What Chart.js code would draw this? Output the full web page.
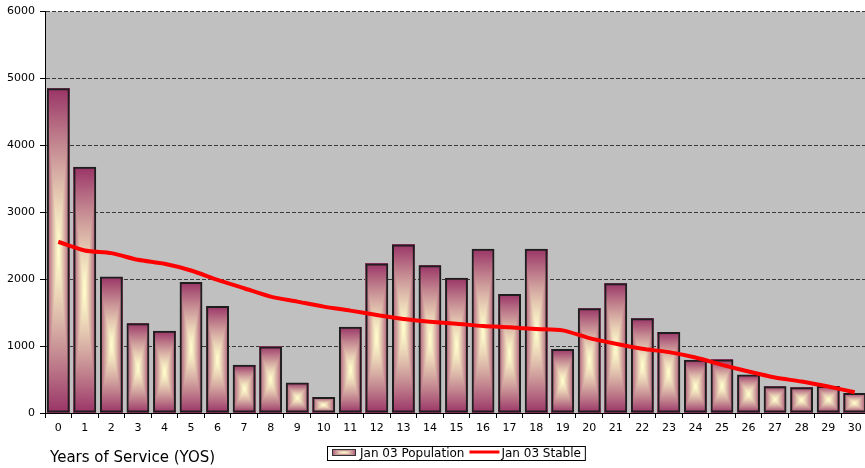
<!DOCTYPE html>
<html>
<head>
<meta charset="utf-8">
<title>Years of Service</title>
<script src="https://cdn.jsdelivr.net/npm/chart.js@4/dist/chart.umd.min.js"></script>
<style>
  html, body { margin: 0; padding: 0; background: #fff; overflow: hidden; }
  #wrap { width: 870px; height: 468px; }
</style>
</head>
<body>
<div id="wrap"><canvas id="yosChart" width="870" height="468"></canvas></div>
<script>
// --- Data ---
const years = ['0', '1', '2', '3', '4', '5', '6', '7', '8', '9', '10', '11', '12', '13', '14', '15',
    '16', '17', '18', '19', '20', '21', '22', '23', '24', '25', '26', '27', '28', '29', '30'];
const population = [4855, 3680, 2040, 1340, 1230, 1960, 1600, 720, 995, 455, 240, 1290, 2235, 2520, 2210,
    2020, 2455, 1780, 2455, 955, 1565, 1940, 1415, 1210, 795, 800, 575, 400, 385, 405, 300];
const stable = [2560, 2430, 2390, 2290, 2230, 2130, 1990, 1865, 1740, 1665, 1590, 1530, 1465, 1405, 1365,
    1335, 1300, 1280, 1255, 1235, 1120, 1035, 960, 910, 830, 720, 620, 530, 470, 395, 310];
const yTicks = [0, 1000, 2000, 3000, 4000, 5000, 6000];

const popLabel = 'Jan 03 Population';
const stableLabel = 'Jan 03 Stable';
const xTitle = 'Years of Service (YOS)';

const FONT = '"DejaVu Sans", "Liberation Sans", Arial, sans-serif';
const EDGE = [153, 51, 102];   // plum
const CENTRE = [255, 253, 204]; // pale yellow

// rectangular "from centre" gradient, filled pixel by pixel
function fillRectGradient(c, left, top, w, h) {
    const x0 = Math.round(left), y0 = Math.round(top);
    const iw = Math.max(1, Math.round(left + w) - x0);
    const ih = Math.max(1, Math.round(top + h) - y0);
    const img = c.createImageData(iw, ih);
    const hw = iw / 2, hh = ih / 2;
    for (let j = 0; j < ih; j++) {
        const v = Math.abs(j + 0.5 - hh) / hh;
        for (let i = 0; i < iw; i++) {
            const u = Math.abs(i + 0.5 - hw) / hw;
            const d = Math.max(0.9 * u, v);
            const t = 1 - Math.pow(d, 1.25); // 0 at edge, 1 at centre
            const k = (j * iw + i) * 4;
            img.data[k] = EDGE[0] + (CENTRE[0] - EDGE[0]) * t;
            img.data[k + 1] = EDGE[1] + (CENTRE[1] - EDGE[1]) * t;
            img.data[k + 2] = EDGE[2] + (CENTRE[2] - EDGE[2]) * t;
            img.data[k + 3] = 255;
        }
    }
    c.putImageData(img, x0, y0);
}

document.addEventListener('DOMContentLoaded', function () {
    const ctx = document.getElementById('yosChart')?.getContext('2d');
    if (!ctx) {
        console.warn("Chart context not found, likely missing element with id 'yosChart'.");
        return;
    }

    // grey plot area
    const plotBackground = {
        id: 'plotBackground',
        beforeDraw(chart) {
            const { ctx: c, chartArea: a } = chart;
            c.save();
            c.fillStyle = '#c0c0c0';
            c.fillRect(a.left, a.top, a.right - a.left, a.bottom - a.top);
            c.restore();
        }
    };

    // gradient fill under each bar's border
    const barGradient = {
        id: 'barGradient',
        beforeDatasetDraw(chart, args) {
            if (args.index !== 0) return;
            const c = chart.ctx;
            args.meta.data.forEach(function (bar) {
                const top = Math.min(bar.y, bar.base);
                const h = Math.abs(bar.base - bar.y);
                fillRectGradient(c, bar.x - bar.width / 2, top, bar.width, h);
            });
        }
    };

    // axis title and boxed legend along the bottom
    const bottomLegend = {
        id: 'bottomLegend',
        afterDraw(chart) {
            const c = chart.ctx;
            c.save();
            c.fillStyle = '#000';
            c.textBaseline = 'alphabetic';
            c.font = '15px ' + FONT;
            c.fillText(xTitle, 50, 462);

            c.font = '12px ' + FONT;
            const boxTop = 446, boxH = 14;
            const start = 327;
            const midY = boxTop + boxH / 2;
            let x = 332;

            // bar swatch
            fillRectGradient(c, x, 449, 24, 7);
            c.strokeStyle = '#333';
            c.lineWidth = 1;
            c.strokeRect(x + 0.5, 449.5, 23, 6);
            x += 28;
            c.fillStyle = '#000';
            c.textBaseline = 'middle';
            c.fillText(popLabel, x, midY + 0.5);
            x += c.measureText(popLabel).width + 5;

            // line swatch
            c.strokeStyle = '#ff0000';
            c.lineWidth = 3;
            c.beginPath();
            c.moveTo(x, 452);
            c.lineTo(x + 30, 452);
            c.stroke();
            x += 32;
            c.fillText(stableLabel, x, midY + 0.5);
            x += c.measureText(stableLabel).width + 4;

            c.strokeStyle = '#000';
            c.lineWidth = 1;
            c.strokeRect(start + 0.5, boxTop + 0.5, x - start, boxH);
            c.restore();
        }
    };

    const yosChart = new Chart(ctx, {
        type: 'bar',
        data: {
            labels: years,
            datasets: [{
                type: 'bar',
                label: popLabel,
                data: population,
                backgroundColor: 'rgba(0,0,0,0)',
                borderColor: '#1e1e1e',
                borderWidth: 2,
                borderSkipped: false,
                categoryPercentage: 1,
                barPercentage: 0.86,
                order: 1
            }, {
                type: 'line',
                label: stableLabel,
                data: stable,
                borderColor: '#ff0000',
                borderWidth: 4,
                pointRadius: 0,
                tension: 0.25,
                fill: false,
                order: 0
            }]
        },
        options: {
            responsive: false,
            animation: false,
            devicePixelRatio: 1,
            layout: { padding: { top: 11, right: 2, bottom: 0, left: 0 } },
            plugins: {
                legend: { display: false },
                tooltip: { enabled: false }
            },
            scales: {
                x: {
                    grid: {
                        offset: true,
                        drawOnChartArea: false,
                        tickLength: 5,
                        tickColor: '#000',
                        color: '#000'
                    },
                    border: { display: true, color: '#000', width: 1 },
                    ticks: {
                        autoSkip: false,
                        maxRotation: 0,
                        padding: 4,
                        color: '#000',
                        font: { family: FONT, size: 11 }
                    },
                    afterFit(scale) { scale.height = 55; }
                },
                y: {
                    min: 0,
                    max: 6000,
                    afterBuildTicks(scale) {
                        scale.ticks = yTicks.map(v => ({ value: v }));
                    },
                    grid: {
                        color: (c) => c.tick && c.tick.value === 0 ? 'rgba(0,0,0,0)' : '#3a3a3a',
                        lineWidth: 1,
                        tickLength: 5,
                        tickColor: '#000',
                        tickBorderDash: []
                    },
                    border: { display: true, color: '#000', width: 1, dash: [4, 2] },
                    ticks: {
                        padding: 5,
                        color: '#000',
                        font: { family: FONT, size: 11 },
                        callback: (v) => String(v)
                    },
                    afterFit(scale) { scale.width = 45; }
                }
            }
        },
        plugins: [plotBackground, barGradient, bottomLegend]
    });
});
</script>
</body>
</html>
